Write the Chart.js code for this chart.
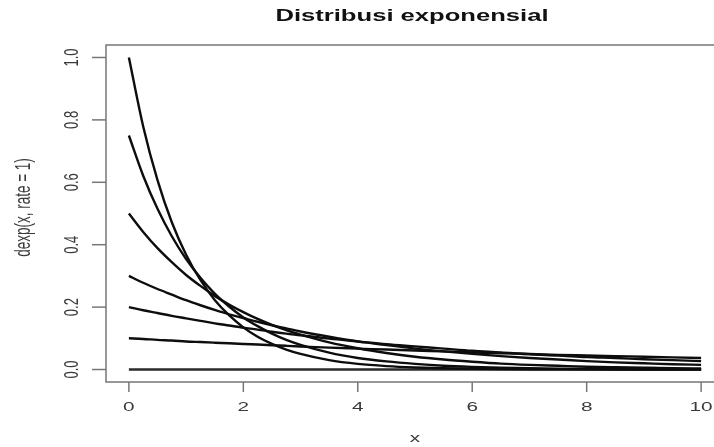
<!DOCTYPE html>
<html>
<head>
<meta charset="utf-8">
<script src="https://cdn.jsdelivr.net/npm/chart.js@4"></script>
<style>
  html, body { margin: 0; padding: 0; background: #fff; overflow: hidden; width: 714px; height: 447px; }
  #wrap { width: 740px; height: 447px; }
</style>
</head>
<body>
<div id="wrap"><canvas id="c" width="740" height="447"></canvas></div>
<script>
// ---- data ----
const titleText = "Distribusi exponensial";
const xAxisLabel = "x";
const yAxisLabel = "dexp(x, rate = 1)";
const xTicks = [0, 2, 4, 6, 8, 10];
const yTicks = [0.0, 0.2, 0.4, 0.6, 0.8, 1.0];

const xValues = [0, 0.25, 0.5, 0.75, 1, 1.25, 1.5, 1.75, 2, 2.25, 2.5, 2.75, 3,
                 3.5, 4, 4.5, 5, 5.5, 6, 6.5, 7, 7.5, 8, 8.5, 9, 9.5, 10];

const curveA = [1.00, 0.779, 0.607, 0.472, 0.368, 0.287, 0.223, 0.174, 0.135, 0.105, 0.082, 0.064, 0.050,
                0.030, 0.018, 0.011, 0.0067, 0.0041, 0.0025, 0.0015, 0.0009, 0.00055, 0.00034, 0.0002, 0.00012, 0.00007, 0.00005];
const curveB = [0.75, 0.621, 0.515, 0.427, 0.354, 0.294, 0.243, 0.202, 0.167, 0.139, 0.115, 0.095, 0.079,
                0.054, 0.037, 0.026, 0.018, 0.012, 0.0083, 0.0057, 0.0039, 0.0027, 0.0019, 0.0013, 0.0009, 0.0006, 0.0004];
const curveC = [0.50, 0.441, 0.389, 0.344, 0.303, 0.268, 0.236, 0.208, 0.184, 0.162, 0.143, 0.126, 0.112,
                0.087, 0.068, 0.053, 0.041, 0.032, 0.025, 0.019, 0.015, 0.012, 0.009, 0.0071, 0.0056, 0.0043, 0.0034];
const curveD = [0.30, 0.278, 0.258, 0.240, 0.222, 0.206, 0.191, 0.177, 0.165, 0.153, 0.142, 0.132, 0.122,
                0.105, 0.090, 0.078, 0.067, 0.058, 0.050, 0.043, 0.037, 0.032, 0.027, 0.023, 0.020, 0.017, 0.015];
const curveE = [0.20, 0.190, 0.181, 0.172, 0.164, 0.156, 0.148, 0.141, 0.134, 0.128, 0.121, 0.115, 0.110,
                0.099, 0.090, 0.081, 0.074, 0.067, 0.060, 0.055, 0.049, 0.045, 0.040, 0.037, 0.033, 0.030, 0.027];
const curveF = [0.10, 0.098, 0.095, 0.093, 0.090, 0.088, 0.086, 0.084, 0.082, 0.080, 0.078, 0.076, 0.074,
                0.070, 0.067, 0.064, 0.061, 0.058, 0.055, 0.052, 0.050, 0.047, 0.045, 0.043, 0.041, 0.039, 0.037];
const curveG = [0, 0, 0, 0, 0, 0, 0, 0, 0, 0, 0, 0, 0,
                0, 0, 0, 0, 0, 0, 0, 0, 0, 0, 0, 0, 0, 0];

const seriesList = [curveA, curveB, curveC, curveD, curveE, curveF, curveG];
const seriesColors = ['#0d0d0d', '#0d0d0d', '#0d0d0d', '#0d0d0d', '#0d0d0d', '#0d0d0d', '#2a2a2a'];

const FONT = '"Liberation Sans", Arial, Helvetica, sans-serif';
const STRETCH = 1.6;

function stretchedText(ctx, text, x, y, font, color, rotate) {
  ctx.save();
  ctx.font = font;
  ctx.fillStyle = color;
  ctx.textAlign = 'center';
  ctx.textBaseline = 'middle';
  ctx.translate(x, y);
  ctx.scale(STRETCH, 1);
  if (rotate) ctx.rotate(-Math.PI / 2);
  ctx.fillText(text, 0, 0);
  ctx.restore();
}

const rAxes = {
  id: 'rAxes',
  afterDraw(chart) {
    const ctx = chart.ctx;
    const a = chart.chartArea;
    const xs = chart.scales.x, ys = chart.scales.y;
    ctx.save();
    // box (right side lies beyond the visible window)
    ctx.strokeStyle = '#777';
    ctx.lineWidth = 1.5;
    ctx.beginPath();
    ctx.moveTo(chart.width, a.top);
    ctx.lineTo(a.left, a.top);
    ctx.lineTo(a.left, a.bottom);
    ctx.lineTo(chart.width, a.bottom);
    ctx.stroke();
    // x ticks
    xTicks.forEach(v => {
      const px = xs.getPixelForValue(v);
      ctx.beginPath();
      ctx.moveTo(px, a.bottom);
      ctx.lineTo(px, a.bottom + 10);
      ctx.stroke();
      stretchedText(ctx, String(v), px, a.bottom + 25, '13px ' + FONT, '#3a3a3a', false);
    });
    // y ticks
    yTicks.forEach(v => {
      const py = ys.getPixelForValue(v);
      ctx.beginPath();
      ctx.moveTo(a.left, py);
      ctx.lineTo(a.left - 14, py);
      ctx.stroke();
      stretchedText(ctx, v.toFixed(1), a.left - 34, py, '13px ' + FONT, '#3a3a3a', true);
    });
    // axis titles
    const cx = (a.left + a.right) / 2;
    const cy = (a.top + a.bottom) / 2;
    stretchedText(ctx, xAxisLabel, cx, a.bottom + 56, '13px ' + FONT, '#3a3a3a', false);
    stretchedText(ctx, yAxisLabel, a.left - 82, cy - 6, '13.5px ' + FONT, '#3a3a3a', true);
    // title
    stretchedText(ctx, titleText, cx - 3, 17, 'bold 16px ' + FONT, '#111', false);
    ctx.restore();
  }
};

new Chart(document.getElementById('c'), {
  type: 'line',
  data: {
    datasets: seriesList.map((s, i) => ({
      data: xValues.map((xv, j) => ({ x: xv, y: s[j] })),
      borderColor: seriesColors[i],
      borderWidth: 2.4,
      pointRadius: 0,
      fill: false,
      cubicInterpolationMode: 'monotone'
    }))
  },
  options: {
    responsive: false,
    devicePixelRatio: 1,
    animation: false,
    layout: { padding: { left: 106, top: 45, right: 16, bottom: 65 } },
    plugins: { legend: { display: false }, tooltip: { enabled: false }, title: { display: false } },
    scales: {
      x: {
        type: 'linear', min: -0.4, max: 10.4,
        ticks: { display: false }, grid: { display: false }, border: { display: false },
        afterFit: s => { s.height = 0; }
      },
      y: {
        type: 'linear', min: -0.04, max: 1.04,
        ticks: { display: false }, grid: { display: false }, border: { display: false },
        afterFit: s => { s.width = 0; }
      }
    }
  },
  plugins: [rAxes]
});
</script>
</body>
</html>
